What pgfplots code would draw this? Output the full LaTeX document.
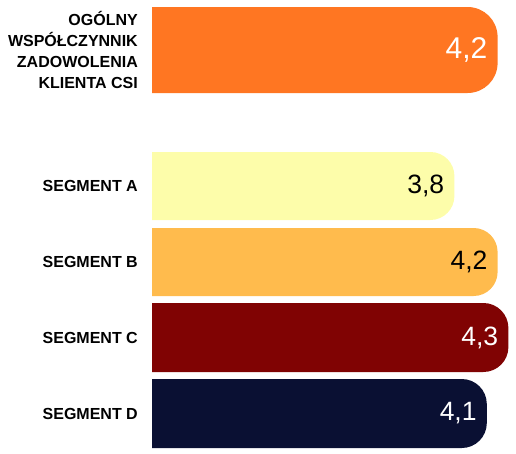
\documentclass[border=0pt]{standalone}
\usepackage{pgfplots}
\pgfplotsset{compat=1.18}
\usepackage{fontspec}
\setmainfont{Liberation Sans}
\definecolor{cOrange}{HTML}{FF7622}
\definecolor{cYellow}{HTML}{FDFDAA}
\definecolor{cGold}{HTML}{FFBB4D}
\definecolor{cRed}{HTML}{800303}
\definecolor{cNavy}{HTML}{0A1033}
\begin{document}
\begin{tikzpicture}
\begin{axis}[
 scale only axis, width=364pt, height=453pt,
 xmin=1, xmax=4.3704, ymin=0, ymax=453, y dir=reverse,
 clip=true,
 hide x axis,
 axis y line*=left, y axis line style={draw=none},
 major tick length=0pt,
 ytick={50,186,262,337.5,413.5},
 yticklabels={{\textbf{OGÓLNY}\\\textbf{WSPÓŁCZYNNIK}\\\textbf{ZADOWOLENIA}\\\textbf{KLIENTA CSI}},{\textbf{SEGMENT A}},{\textbf{SEGMENT B}},{\textbf{SEGMENT C}},{\textbf{SEGMENT D}}},
 yticklabel style={font=\fontsize{16}{21}\selectfont, align=right, inner sep=0pt, xshift=-14pt},
 every node near coord/.append style={anchor=east, xshift=-10pt, inner sep=0pt, font=\fontsize{26.5}{26.5}\selectfont},
 /pgf/number format/use comma,
 /pgf/number format/fixed,
 /pgf/number format/fixed zerofill,
 /pgf/number format/precision=1,
 /pgf/number format/assume math mode=true,
]
% bars: value, top and bottom edge (pixels from the top)
\addplot[fill=cOrange, draw=none, rounded corners=30pt] coordinates {(0,7) (4.2,7) (4.2,93) (0,93)} -- cycle;
\addplot[fill=cYellow, draw=none, rounded corners=24pt] coordinates {(0,152) (3.8,152) (3.8,220) (0,220)} -- cycle;
\addplot[fill=cGold, draw=none, rounded corners=24pt] coordinates {(0,228) (4.2,228) (4.2,296) (0,296)} -- cycle;
\addplot[fill=cRed, draw=none, rounded corners=25pt] coordinates {(0,303) (4.3,303) (4.3,372) (0,372)} -- cycle;
\addplot[fill=cNavy, draw=none, rounded corners=25pt] coordinates {(0,379) (4.1,379) (4.1,448) (0,448)} -- cycle;
% value labels
\addplot[draw=none, mark=none, nodes near coords, point meta=x, every node near coord/.append style={white, font=\fontsize{30}{30}\selectfont}] coordinates {(4.2,50)};
\addplot[draw=none, mark=none, nodes near coords, point meta=x, every node near coord/.append style={black}] coordinates {(3.8,186) (4.2,262)};
\addplot[draw=none, mark=none, nodes near coords, point meta=x, every node near coord/.append style={white}] coordinates {(4.3,337.5) (4.1,413.5)};
\end{axis}
\pgfresetboundingbox
\path (current axis.south west) ++(-152pt,0pt) rectangle (current axis.north east);
\end{tikzpicture}
\end{document}
